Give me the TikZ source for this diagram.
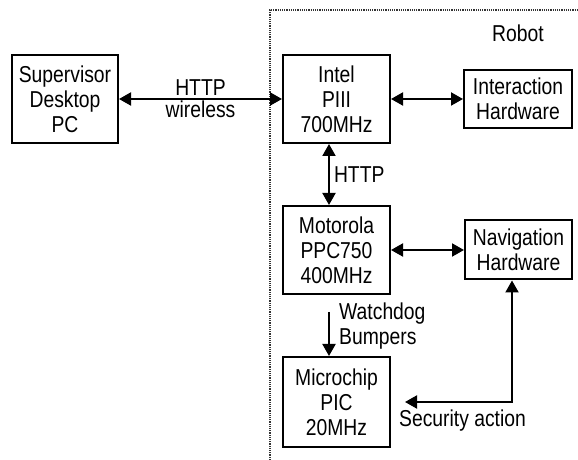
\documentclass[tikz,border=0pt]{standalone}
\usepackage{fontspec}
\setmainfont{Liberation Sans}[FakeStretch=0.84]
\usetikzlibrary{arrows.meta,positioning}
\tikzset{
	block/.style={draw,line width=2pt,minimum width=107pt,align=center,inner sep=0pt},
	lbl/.style={inner sep=1pt,align=left},
	link/.style={line width=2pt,<->}
}
\begin{document}
\begin{tikzpicture}[>={Triangle[length=12pt,width=13pt]},x=1pt,y=1pt,font=\fontsize{23}{25}\selectfont]
	\useasboundingbox (0,0) rectangle (578,460);
	% robot frame
	\draw[densely dotted,line width=1.2pt,black!80] (270,0)--(270,450)--(578,450);
	\node (robot) at (518,427) {Robot};
	% boxes
	\node[block,minimum width=106pt,minimum height=88pt] (sup) at (65,361) {Supervisor\\Desktop\\PC};
	\node[block,minimum height=88pt] (intel) at (336.5,361) {Intel\\PIII\\700MHz};
	\node[block,minimum width=108pt,minimum height=58pt] (inter) at (518,361) {Interaction\\Hardware};
	\node[block,minimum height=88pt] (moto) at (336.5,210) {Motorola\\PPC750\\400MHz};
	\node[block,minimum height=59pt] (nav) at (518.5,210) {Navigation\\Hardware};
	\node[block,minimum height=90pt] (pic) at (336.5,58) {Microchip\\PIC\\20MHz};
	% links
	\draw[link] (sup.east)--(intel.west)
		node[midway,above=2pt,inner sep=0pt] (http1) {HTTP}
		node[midway,below=1pt,inner sep=0pt] (wless) {wireless};
	\draw[link] (intel.east)--(inter.west);
	\draw[link] ([xshift=-7.5pt]intel.south)--([xshift=-7.5pt]moto.north)
		node[midway,right=3pt,lbl] (http2) {HTTP};
	\draw[link] (moto.east)--(nav.west);
	\coordinate (wd) at (329,148);
	\draw[line width=2pt,->] (wd)--([xshift=-7.5pt]pic.north);
	\node[lbl,anchor=west] (wdl) at (338,134) {Watchdog\\Bumpers};
	\coordinate (sec) at (405,58);
	\draw[link] (sec)-|([xshift=-6.5pt]nav.south);
	\node[lbl,anchor=west] (secl) at (398,39) {Security action};
\end{tikzpicture}
\end{document}
